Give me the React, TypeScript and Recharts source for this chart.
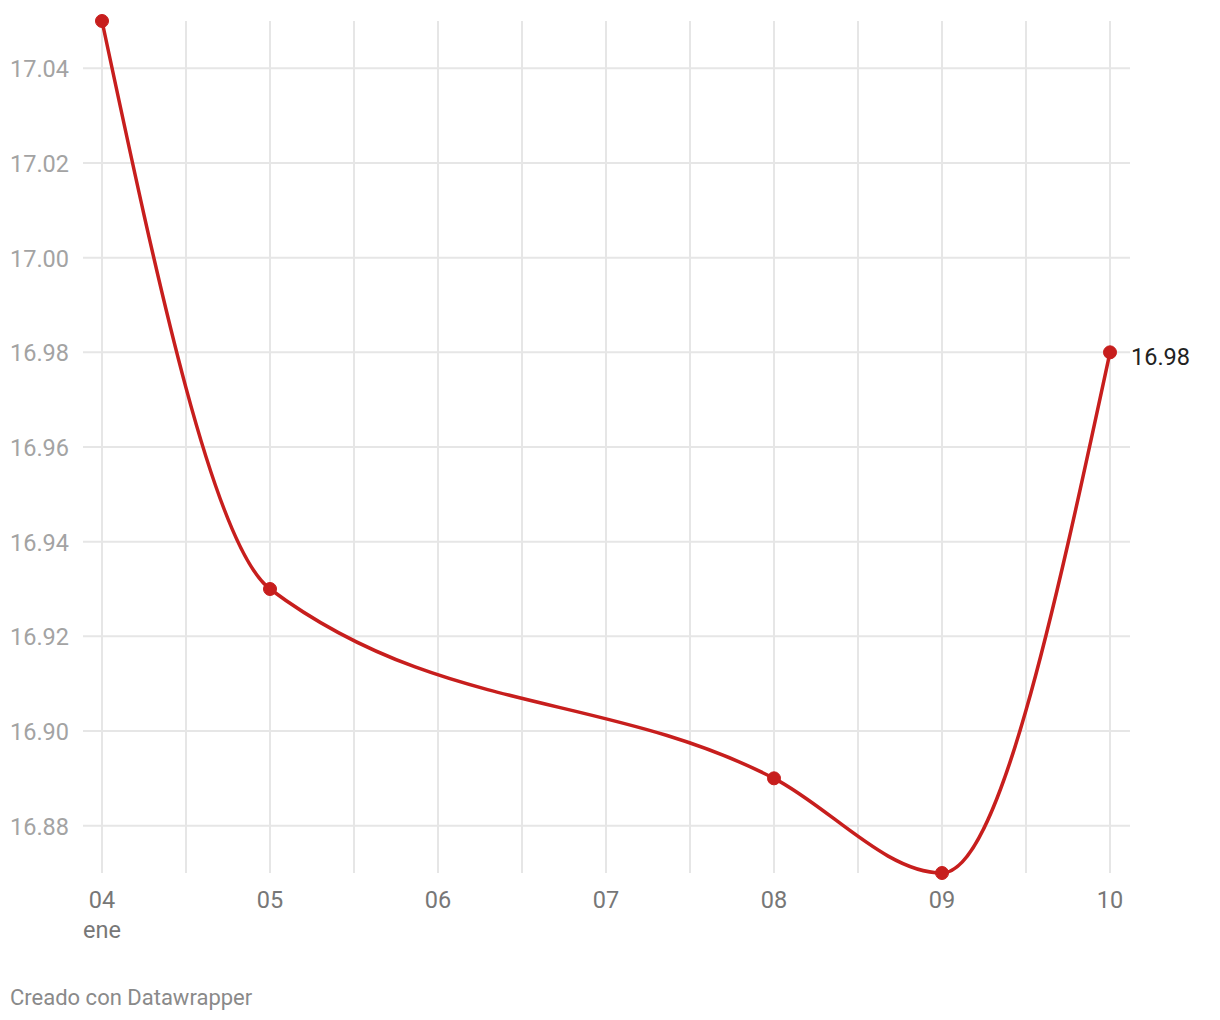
import React from 'react';
import { LineChart, Line, XAxis, YAxis, CartesianGrid } from 'recharts';

const days = [4, 5, 8, 9, 10];
const values = [17.05, 16.93, 16.89, 16.87, 16.98];
const xTicks = [4, 4.5, 5, 5.5, 6, 6.5, 7, 7.5, 8, 8.5, 9, 9.5, 10];
const yTicks = [16.88, 16.9, 16.92, 16.94, 16.96, 16.98, 17.0, 17.02, 17.04];
const monthLabel = 'ene';
const footer = 'Creado con Datawrapper';

const data = days.map((d, i) => ({ day: d, value: values[i] }));

const FONT = 'Roboto, sans-serif';
const RED = '#c71e1d';
const FS = 23.5;

const XTick = (props: any) => {
  const { x, y, payload } = props;
  const v = payload.value;
  if (!Number.isInteger(v)) return null;
  const label = String(v).padStart(2, '0');
  return (
    <g>
      <text x={x} y={y + 27} textAnchor="middle" fontFamily={FONT} fontSize={FS} fill="#777777">
        {label}
      </text>
      {v === days[0] ? (
        <text x={x} y={y + 57} textAnchor="middle" fontFamily={FONT} fontSize={FS} fill="#777777">
          {monthLabel}
        </text>
      ) : null}
    </g>
  );
};

const YTick = (props: any) => {
  const { y, payload } = props;
  return (
    <text x={10} y={y + 9} textAnchor="start" fontFamily={FONT} fontSize={FS} fill="#a3a3a3">
      {payload.value.toFixed(2)}
    </text>
  );
};

const EndLabel = (props: any) => {
  const { x, y, index, value } = props;
  if (index !== data.length - 1) return null;
  return (
    <text x={x + 21} y={y + 13} textAnchor="start" fontFamily={FONT} fontSize={FS} fill="#222222">
      {Number(value).toFixed(2)}
    </text>
  );
};

export default function App() {
  return (
    <div style={{ position: 'absolute', left: 0, top: 0, width: 1220, height: 1020, background: '#fff' }}>
      <LineChart width={1220} height={1020} data={data} margin={{ top: 21, right: 110, bottom: 0, left: 0 }}>
        <CartesianGrid horizontal={false} stroke="#e6e6e6" strokeWidth={2} syncWithTicks />
        <CartesianGrid
          vertical={false}
          stroke="#e6e6e6"
          strokeWidth={2}
          x={83}
          width={1047}
          syncWithTicks
        />
        <XAxis
          dataKey="day"
          type="number"
          domain={[4, 10]}
          ticks={xTicks}
          interval={0}
          axisLine={false}
          tickLine={false}
          height={147}
          tick={<XTick />}
        />
        <YAxis
          type="number"
          domain={[16.87, 17.05]}
          ticks={yTicks}
          interval={0}
          axisLine={false}
          tickLine={false}
          width={102}
          tick={<YTick />}
        />
        <Line
          type="monotone"
          dataKey="value"
          stroke={RED}
          strokeWidth={3.5}
          dot={{ r: 6.5, fill: RED, stroke: RED, strokeWidth: 1 }}
          activeDot={false}
          isAnimationActive={false}
          label={<EndLabel />}
        />
      </LineChart>
      <div
        style={{
          position: 'absolute',
          left: 10,
          top: 985,
          fontFamily: FONT,
          fontSize: 22,
          color: '#8a8a8a',
          lineHeight: '26px',
          whiteSpace: 'nowrap',
        }}
      >
        {footer}
      </div>
    </div>
  );
}
